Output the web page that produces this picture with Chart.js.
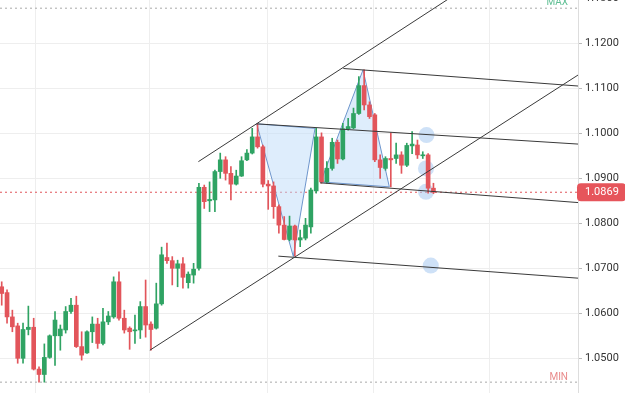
<!DOCTYPE html>
<html>
<head>
<meta charset="utf-8">
<script src="https://cdn.jsdelivr.net/npm/chart.js@4.4.1/dist/chart.umd.min.js"></script>
<style>
    html, body { margin: 0; padding: 0; background: #fff; }
    #wrap { width: 625px; height: 393px; position: relative; }
</style>
</head>
<body>
<div id="wrap"><canvas id="myChart"></canvas></div>
<script>
// candle data, one value per candle (index = x position)
const opens = [1.0659, 1.0646, 1.0592, 1.0572, 1.0500, 1.0564, 1.0569, 1.0476, 1.0464, 1.0502,
    1.0550, 1.0550, 1.0563, 1.0604, 1.0618, 1.0526, 1.0512, 1.0559, 1.0576, 1.0533,
    1.0581, 1.0592, 1.0670, 1.0589, 1.0567, 1.0561, 1.0563, 1.0615, 1.0576, 1.0567,
    1.0621, 1.0724, 1.0717, 1.0700, 1.0710, 1.0668, 1.0685, 1.0700, 1.0880, 1.0850,
    1.0852, 1.0915, 1.0941, 1.0911, 1.0887, 1.0905, 1.0941, 1.0956, 1.0992, 1.0970,
    1.0887, 1.0883, 1.0837, 1.0796, 1.0764, 1.0794, 1.0763, 1.0767, 1.0792, 1.0872,
    1.0992, 1.0892, 1.0922, 1.0980, 1.0943, 1.1010, 1.1012, 1.1044, 1.1106, 1.1063,
    1.1041, 1.0941, 1.0922, 1.0944, 1.0944, 1.0952, 1.0929, 1.0972, 1.0974, 1.0950,
    1.0952, 1.0878];
const highs = [1.0670, 1.0652, 1.0607, 1.0578, 1.0578, 1.0616, 1.0589, 1.0481, 1.0532, 1.0552,
    1.0604, 1.0574, 1.0615, 1.0633, 1.0638, 1.0559, 1.0561, 1.0592, 1.0589, 1.0611,
    1.0604, 1.0681, 1.0692, 1.0607, 1.0570, 1.0596, 1.0626, 1.0674, 1.0581, 1.0667,
    1.0747, 1.0756, 1.0726, 1.0718, 1.0724, 1.0692, 1.0711, 1.0889, 1.0885, 1.0892,
    1.0918, 1.0956, 1.0948, 1.0926, 1.0918, 1.0948, 1.0964, 1.1011, 1.1021, 1.0974,
    1.0895, 1.0892, 1.0841, 1.0815, 1.0816, 1.0796, 1.0785, 1.0811, 1.0878, 1.1011,
    1.1001, 1.0937, 1.0989, 1.0985, 1.1022, 1.1033, 1.1056, 1.1126, 1.1141, 1.1070,
    1.1044, 1.0952, 1.0948, 1.1001, 1.0978, 1.0959, 1.0978, 1.1004, 1.0985, 1.0959,
    1.0955, 1.0889];
const lows = [1.0618, 1.0578, 1.0559, 1.0489, 1.0489, 1.0552, 1.0474, 1.0447, 1.0447, 1.0500,
    1.0484, 1.0518, 1.0556, 1.0600, 1.0524, 1.0496, 1.0511, 1.0535, 1.0522, 1.0530,
    1.0575, 1.0589, 1.0585, 1.0556, 1.0520, 1.0533, 1.0544, 1.0547, 1.0518, 1.0565,
    1.0618, 1.0711, 1.0663, 1.0659, 1.0656, 1.0656, 1.0667, 1.0696, 1.0833, 1.0826,
    1.0826, 1.0900, 1.0896, 1.0852, 1.0885, 1.0904, 1.0939, 1.0954, 1.0967, 1.0881,
    1.0831, 1.0811, 1.0778, 1.0763, 1.0761, 1.0727, 1.0748, 1.0763, 1.0778, 1.0867,
    1.0889, 1.0889, 1.0918, 1.0933, 1.0941, 1.1007, 1.1010, 1.1042, 1.1052, 1.1033,
    1.0937, 1.0900, 1.0918, 1.0881, 1.0933, 1.0911, 1.0926, 1.0955, 1.0944, 1.0944,
    1.0867, 1.0866];
const closes = [1.0644, 1.0592, 1.0570, 1.0500, 1.0564, 1.0569, 1.0476, 1.0464, 1.0502, 1.0550,
    1.0585, 1.0565, 1.0604, 1.0618, 1.0526, 1.0507, 1.0559, 1.0576, 1.0533, 1.0581,
    1.0594, 1.0670, 1.0589, 1.0563, 1.0559, 1.0563, 1.0615, 1.0574, 1.0564, 1.0621,
    1.0730, 1.0717, 1.0700, 1.0710, 1.0680, 1.0687, 1.0698, 1.0880, 1.0848, 1.0853,
    1.0915, 1.0941, 1.0911, 1.0887, 1.0905, 1.0939, 1.0956, 1.0992, 1.0970, 1.0887,
    1.0883, 1.0837, 1.0796, 1.0764, 1.0794, 1.0763, 1.0768, 1.0796, 1.0874, 1.0992,
    1.0892, 1.0922, 1.0980, 1.0943, 1.1010, 1.1015, 1.1044, 1.1106, 1.1063, 1.1037,
    1.0941, 1.0924, 1.0944, 1.0941, 1.0952, 1.0929, 1.0973, 1.0976, 1.0952, 1.0952,
    1.0878, 1.0869];

const yTicks = [1.05, 1.06, 1.07, 1.08, 1.09, 1.10, 1.11, 1.12, 1.13];
const gridX = [6.25, 27.8, 49.9, 69.7, 91.6];
const lastPrice = 1.0869;
const maxPrice = 1.1278;
const minPrice = 1.0447;

// drawing tools, points as [candle index, price]
const channelUpper = [[36.9, 1.0937], [84.0, 1.1300]];
const channelLower = [[27.8, 1.0518], [108.2, 1.1130]];
const forkLine1 = [[64.1, 1.1144], [108.2, 1.1105]];
const forkLine2 = [[47.84, 1.1021], [108.2, 1.0976]];
const forkLine3 = [[59.72, 1.0890], [108.2, 1.0846]];
const forkLine4 = [[51.9, 1.0727], [108.2, 1.0678]];
const patternXAB = [[47.84, 1.1021], [54.71, 1.0726], [58.78, 1.1011]];
const patternCDE = [[59.85, 1.0892], [67.79, 1.1141], [72.72, 1.0881]];
const markers = [[79.7, 1.0996], [79.6, 1.0922], [79.6, 1.0870], [80.5, 1.0706]];

const xMin = -0.32;
const xMax = 108.12;
const yMin = 1.04229;
const yMax = 1.12962;

const green = '#2fa363';
const red = '#e2555b';
const candleColors = opens.map((o, i) => closes[i] >= o ? green : red);

const toPts = (arr) => arr.map(p => ({ x: p[0], y: p[1] }));

function segment(points) {
    return {
        type: 'line',
        data: toPts(points),
        borderColor: '#3a3a3a',
        borderWidth: 1,
        pointRadius: 0,
        fill: false,
        order: 1
    };
}

function triangle(points) {
    return {
        type: 'line',
        data: toPts(points.concat([points[0]])),
        borderColor: '#6d95cc',
        borderWidth: 1,
        backgroundColor: 'rgba(190, 220, 250, 0.5)',
        pointRadius: 0,
        fill: 'shape',
        order: 6
    };
}

function dotted(price, color) {
    return {
        type: 'line',
        data: [{ x: xMin, y: price }, { x: xMax, y: price }],
        borderColor: color,
        borderWidth: 1,
        borderDash: [2, 3],
        pointRadius: 0,
        fill: false,
        order: 8
    };
}

const tagPlugin = {
    id: 'tags',
    afterDraw(chart) {
        const { ctx, chartArea, scales: { y } } = chart;
        const py = y.getPixelForValue(lastPrice);
        ctx.save();
        ctx.fillStyle = '#e6555b';
        ctx.beginPath();
        ctx.roundRect(chartArea.right - 1, py - 9, 49, 18, 4);
        ctx.fill();
        ctx.fillStyle = '#fff';
        ctx.font = '11px Roboto';
        ctx.textBaseline = 'middle';
        ctx.fillText(lastPrice.toFixed(4), chartArea.right + 7, py + 0.5);

        ctx.font = '10px Roboto';
        ctx.textAlign = 'right';
        ctx.fillStyle = '#5fbf94';
        ctx.fillText('MAX', chartArea.right - 10, y.getPixelForValue(maxPrice) - 5.5);
        ctx.fillStyle = '#e98b8b';
        ctx.fillText('MIN', chartArea.right - 10, y.getPixelForValue(minPrice) - 5);
        ctx.restore();
    }
};

const ctx = document.getElementById('myChart');
const myChart = new Chart(ctx, {
    type: 'bar',
    data: {
        datasets: [
            {
                data: lows.map((l, i) => ({ x: i, y: [l, highs[i]] })),
                backgroundColor: candleColors,
                barThickness: 1,
                grouped: false,
                order: 3
            },
            {
                data: opens.map((o, i) => ({ x: i, y: [o, closes[i]] })),
                backgroundColor: candleColors,
                barThickness: 4,
                minBarLength: 1,
                grouped: false,
                order: 2
            },
            triangle(patternXAB),
            triangle(patternCDE),
            {
                type: 'line',
                data: toPts(markers),
                showLine: false,
                pointRadius: 8,
                pointBackgroundColor: 'rgba(165, 200, 240, 0.55)',
                pointBorderWidth: 0,
                order: 7
            },
            segment(channelUpper),
            segment(channelLower),
            segment(forkLine1),
            segment(forkLine2),
            segment(forkLine3),
            segment(forkLine4),
            dotted(lastPrice, '#e0555a'),
            dotted(maxPrice, '#a8a8a8'),
            dotted(minPrice, '#a8a8a8')
        ]
    },
    options: {
        responsive: true,
        maintainAspectRatio: false,
        animation: false,
        layout: { padding: 0, autoPadding: false },
        plugins: {
            legend: { display: false },
            tooltip: { enabled: false }
        },
        scales: {
            x: {
                type: 'linear',
                min: xMin,
                max: xMax,
                offset: false,
                afterBuildTicks: (s) => { s.ticks = gridX.map(v => ({ value: v })); },
                afterFit: (s) => { s.height = 0; },
                ticks: { display: false },
                grid: { color: '#eeeeee', drawTicks: false, offset: false },
                border: { display: false }
            },
            y: {
                position: 'right',
                min: yMin,
                max: yMax,
                afterBuildTicks: (s) => { s.ticks = yTicks.map(v => ({ value: v })); },
                afterFit: (s) => { s.width = 47; s.paddingTop = 0; s.paddingBottom = 0; },
                ticks: {
                    color: '#333',
                    padding: 3,
                    font: { family: 'Roboto', size: 11 },
                    callback: (v) => Number(v).toFixed(4)
                },
                grid: { color: '#eeeeee', tickColor: '#bbbbbb', tickLength: 4 },
                border: { color: '#dddddd' }
            }
        }
    },
    plugins: [tagPlugin]
});
</script>
</body>
</html>
